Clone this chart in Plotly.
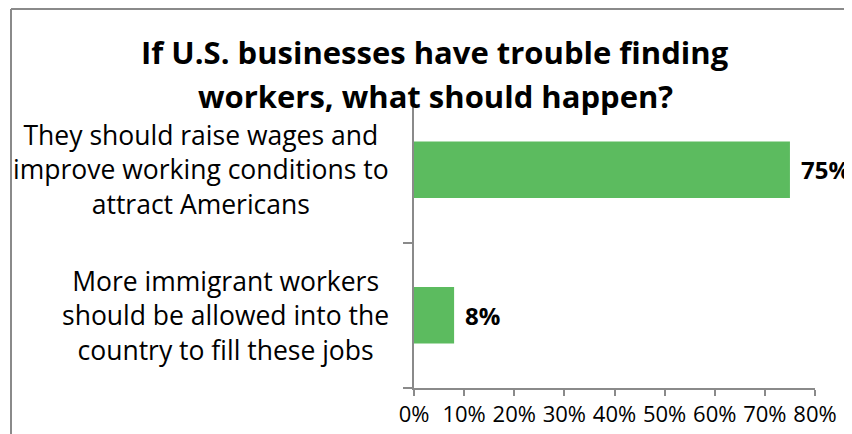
import plotly.graph_objects as go

# ---- data ----
title_lines = ["If U.S. businesses have trouble finding", "workers, what should happen?"]
categories = [
    "They should raise wages and<br>improve working conditions to<br>attract Americans",
    "More immigrant workers<br>should be allowed into the<br>country to fill these jobs",
]
values = [0.75, 0.08]
value_labels = ["75%", "8%"]
x_tick_vals = [0, 0.1, 0.2, 0.3, 0.4, 0.5, 0.6, 0.7, 0.8]
x_tick_text = ["0%", "10%", "20%", "30%", "40%", "50%", "60%", "70%", "80%"]

FONT = "'Open Sans', Lato, sans-serif"
GRAY = "#8a8a8a"
GREEN = "#5cbb5f"

positions = list(range(len(categories)))

fig = go.Figure()
fig.add_trace(go.Bar(
    x=values,
    y=positions,
    orientation="h",
    width=0.39,
    marker=dict(color=GREEN, line=dict(width=0)),
    hoverinfo="skip",
))

# page body has an 8px margin; layout numbers below are screen pixels
OFF = 8
W, H = 852, 434
L, R, T, B = 414 - OFF, 852 - 815 + OFF, 97 - OFF, 434 - 388 + OFF
pw, ph = W - L - R, H - T - B

def px_x(px):
    return (px - OFF - L) / pw

def px_y(py):
    return (H - B - (py - OFF)) / ph

annotations = []
# title
for line, yc in zip(title_lines, [52, 96]):
    annotations.append(dict(
        text=f"<b>{line}</b>", xref="paper", yref="paper",
        x=px_x(435), y=px_y(yc), xanchor="center", yanchor="middle",
        showarrow=False, font=dict(family=FONT, size=31, color="#000000"),
    ))
# category labels
for cat, pos in zip(categories, positions):
    annotations.append(dict(
        text=cat, xref="paper", yref="y", x=px_x(391), y=pos,
        xanchor="right", yanchor="middle", align="center", showarrow=False,
        font=dict(family=FONT, size=26.5, color="#000000"),
    ))
# value labels
for v, lab, pos in zip(values, value_labels, positions):
    annotations.append(dict(
        text=f"<b>{lab}</b>", xref="x", yref="y", x=v, y=pos,
        xanchor="left", yanchor="middle", xshift=9, showarrow=False,
        font=dict(family=FONT, size=24, color="#000000"),
    ))

shapes = [
    dict(type="line", xref="paper", yref="paper", x0=px_x(11), x1=px_x(900),
         y0=px_y(9), y1=px_y(9), line=dict(color=GRAY, width=2)),
    dict(type="line", xref="paper", yref="paper", x0=px_x(11), x1=px_x(11),
         y0=px_y(9), y1=px_y(480), line=dict(color=GRAY, width=2)),
]

fig.update_layout(
    width=W, height=H,
    margin=dict(l=L, r=R, t=T, b=B, pad=0),
    paper_bgcolor="white", plot_bgcolor="white",
    showlegend=False,
    font=dict(family=FONT, color="#000000"),
    annotations=annotations,
    shapes=shapes,
    xaxis=dict(
        range=[0, 0.8], tickvals=x_tick_vals, ticktext=x_tick_text,
        ticks="outside", ticklen=6, tickwidth=1.5, tickcolor=GRAY,
        showline=True, linecolor=GRAY, linewidth=1.5,
        showgrid=False, zeroline=False,
        tickfont=dict(family=FONT, size=22, color="#000000"),
    ),
    yaxis=dict(
        range=[1.5, -0.5], tickvals=[0.5, 1.5], showticklabels=False,
        ticks="outside", ticklen=9, tickwidth=1.5, tickcolor=GRAY,
        showline=True, linecolor=GRAY, linewidth=1.5,
        showgrid=False, zeroline=False,
    ),
)

fig.write_html("out.html")
